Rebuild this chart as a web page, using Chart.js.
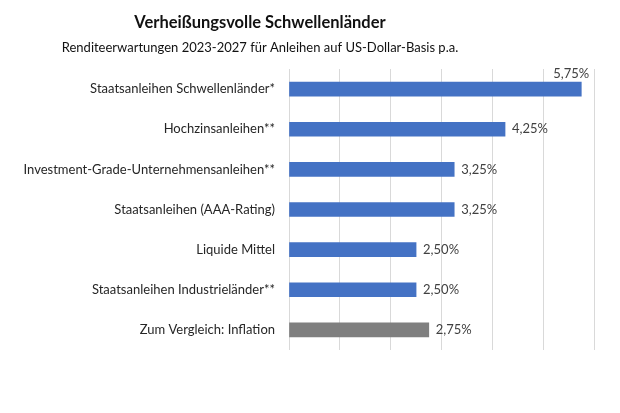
<!DOCTYPE html>
<html>
<head>
<meta charset="utf-8">
<script src="https://cdn.jsdelivr.net/npm/chart.js@4"></script>
<style>
  html, body { margin: 0; padding: 0; background: #fff; }
  #wrap { width: 620px; height: 413px; }
</style>
</head>
<body>
<div id="wrap"><canvas id="chart"></canvas></div>
<script>
const titleText = 'Verheißungsvolle Schwellenländer';
const subtitleText = 'Renditeerwartungen 2023-2027 für Anleihen auf US-Dollar-Basis p.a.';

const categories = [
    'Staatsanleihen Schwellenländer*',
    'Hochzinsanleihen**',
    'Investment-Grade-Unternehmensanleihen**',
    'Staatsanleihen (AAA-Rating)',
    'Liquide Mittel',
    'Staatsanleihen Industrieländer**',
    'Zum Vergleich: Inflation'
];
const values = [5.75, 4.25, 3.25, 3.25, 2.50, 2.50, 2.75];
const barColors = ['#4472C4', '#4472C4', '#4472C4', '#4472C4', '#4472C4', '#4472C4', '#7F7F7F'];

const fontFamily = 'Lato, "Open Sans", sans-serif';

// value labels at the end of each bar, lifted above if there is no room
const valueLabels = {
    id: 'valueLabels',
    afterDatasetsDraw(chart) {
        const ctx = chart.ctx;
        const meta = chart.getDatasetMeta(0);
        ctx.save();
        ctx.font = '13px ' + fontFamily;
        ctx.fillStyle = '#404040';
        ctx.textBaseline = 'middle';
        meta.data.forEach((bar, i) => {
            const text = values[i].toFixed(2).replace('.', ',') + '%';
            const w = ctx.measureText(text).width;
            let x = bar.x + 7;
            let y = bar.y;
            if (x + w > chart.width - 4) {
                x = bar.x + 8 - w;
                y = bar.y - 15;
            }
            ctx.textAlign = 'left';
            ctx.fillText(text, x, y);
        });
        ctx.restore();
    }
};

// titles are centred over the left part of the picture
const shiftTitles = {
    id: 'shiftTitles',
    afterLayout(chart) {
        chart.boxes.forEach(box => {
            if (box.options && typeof box.options.text === 'string' && box.options.position === 'top') {
                box.left = 0;
                box.right = 520;
            }
        });
    }
};

new Chart(document.getElementById('chart'), {
    type: 'bar',
    data: {
        labels: categories,
        datasets: [{
            data: values,
            backgroundColor: barColors,
            barThickness: 14,
            borderWidth: 0
        }]
    },
    options: {
        indexAxis: 'y',
        responsive: true,
        maintainAspectRatio: false,
        animation: false,
        layout: {
            padding: { left: 0, right: 26, top: 0, bottom: 63 }
        },
        scales: {
            x: {
                min: 0,
                max: 6,
                ticks: { display: false, stepSize: 1 },
                grid: { color: '#D9D9D9', lineWidth: 1, drawTicks: false },
                border: { display: false }
            },
            y: {
                afterFit(scale) { scale.width = 289; },
                ticks: {
                    padding: 14,
                    color: '#262626',
                    font: { family: fontFamily, size: 13 }
                },
                grid: { display: false, drawTicks: false },
                border: { display: false }
            }
        },
        plugins: {
            legend: { display: false },
            tooltip: { enabled: false },
            title: {
                display: true,
                text: titleText,
                color: '#111111',
                font: { family: fontFamily, size: 16.5, weight: 'bold' },
                padding: { top: 13, bottom: 4 }
            },
            subtitle: {
                display: true,
                text: subtitleText,
                color: '#111111',
                font: { family: fontFamily, size: 13 },
                padding: { top: 3, bottom: 13.6 }
            }
        }
    },
    plugins: [valueLabels, shiftTitles]
});
</script>
</body>
</html>
